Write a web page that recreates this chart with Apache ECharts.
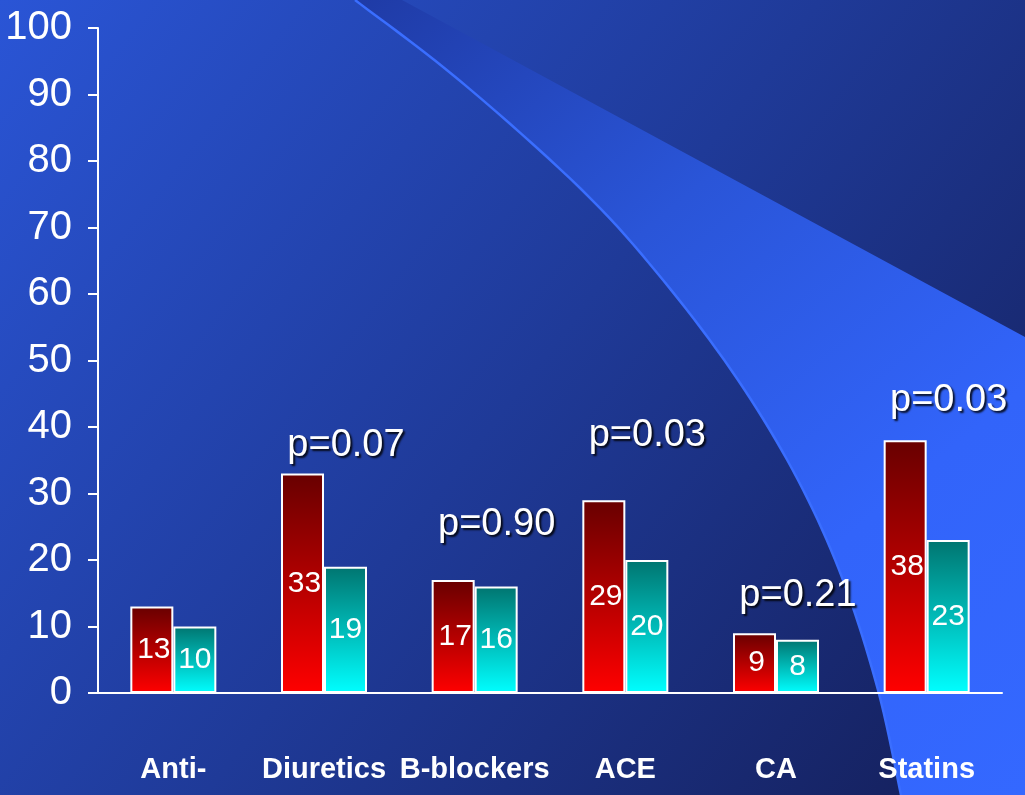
<!DOCTYPE html>
<html>
<head>
<meta charset="utf-8">
<script src="https://cdn.jsdelivr.net/npm/echarts@6/dist/echarts.min.js"></script>
<style>
  html, body { margin: 0; padding: 0; background: #1f3a9c; }
  #chart { width: 1025px; height: 795px; }
</style>
</head>
<body>
<div id="chart"></div>
<script>
// values
const categories = ['Anti-', 'Diuretics', 'B-blockers', 'ACE', 'CA', 'Statins'];
const redValues = [13, 33, 17, 29, 9, 38];
const tealValues = [10, 19, 16, 20, 8, 23];
const pLabels = ['', 'p=0.07', 'p=0.90', 'p=0.03', 'p=0.21', 'p=0.03'];

// how far each p label sits above its red bar (px), as on the slide
const pLift = [0, 28, 55, 65, 38, 40];

const chart = echarts.init(document.getElementById('chart'));

// decorative swoosh in the background (catmull-rom through a few anchors)
function swoosh() {
  const a = [[355, 0], [459, 80], [582, 190], [663, 280], [738, 380],
             [798, 480], [843, 580], [878, 690], [901, 795]];
  const pts = [];
  for (let k = 0; k < a.length - 1; k++) {
    const p0 = a[Math.max(k - 1, 0)], p1 = a[k], p2 = a[k + 1], p3 = a[Math.min(k + 2, a.length - 1)];
    for (let s = 0; s < 10; s++) {
      const t = s / 10, t2 = t * t, t3 = t2 * t;
      pts.push([0, 1].map(d => 0.5 * (2 * p1[d] + (-p0[d] + p2[d]) * t +
        (2 * p0[d] - 5 * p1[d] + 4 * p2[d] - p3[d]) * t2 +
        (-p0[d] + 3 * p1[d] - 3 * p2[d] + p3[d]) * t3)));
    }
  }
  pts.push(a[a.length - 1]);
  return pts;
}
const curve = swoosh();
const wedge = curve.concat([[1025, 795], [1025, 337], [402, 0]]);

const grad = (top, bottom) => new echarts.graphic.LinearGradient(0, 0, 0, 1, [
  { offset: 0, color: top },
  { offset: 1, color: bottom }
]);

const labelFont = "'Liberation Sans', Arial, sans-serif";

const option = {
  animation: false,
  graphic: {
    elements: [
      {
        type: 'rect', z: -20, silent: true,
        shape: { x: 0, y: 0, width: 1025, height: 795 },
        style: {
          fill: new echarts.graphic.LinearGradient(0, 0, 1, 1, [
            { offset: 0, color: '#2a55d6' },
            { offset: 0.5, color: '#1f3a98' },
            { offset: 1, color: '#141e58' }
          ])
        }
      },
      {
        type: 'polygon', z: -19, silent: true,
        shape: { points: wedge },
        style: {
          fill: new echarts.graphic.LinearGradient(0, 0, 1, 1, [
            { offset: 0, color: '#1f3ba6' },
            { offset: 0.35, color: '#2a55d8' },
            { offset: 0.7, color: '#3264fa' },
            { offset: 1, color: '#3468ff' }
          ])
        }
      },
      {
        type: 'polyline', z: -18, silent: true,
        shape: { points: curve },
        style: { stroke: '#3a6eff', lineWidth: 2.5, fill: null }
      }
    ]
  },
  grid: { left: 98, right: 23, top: 28, bottom: 102, outerBoundsMode: 'none' },
  xAxis: {
    type: 'category',
    data: categories,
    axisLine: { lineStyle: { color: '#fff', width: 2 } },
    axisTick: { length: 17, lineStyle: { color: '#fff', width: 2 } },
    axisLabel: {
      interval: 0,
      color: '#fff',
      fontFamily: labelFont,
      fontWeight: 'bold',
      fontSize: 29,
      margin: 62
    }
  },
  yAxis: {
    type: 'value',
    min: 0,
    max: 100,
    interval: 10,
    splitLine: { show: false },
    axisLine: { show: true, lineStyle: { color: '#fff', width: 2 } },
    axisTick: { show: true, length: 10, lineStyle: { color: '#fff', width: 2 } },
    axisLabel: {
      color: '#fff',
      fontFamily: labelFont,
      fontSize: 40,
      margin: 26
    }
  },
  series: [
    {
      type: 'bar',
      data: redValues,
      barWidth: 43,
      barGap: '0%',
      itemStyle: { color: grad('#680000', '#ff0000'), borderColor: '#fff', borderWidth: 2 },
      label: {
        show: true,
        position: 'inside',
        offset: [2, 0],
        color: '#fff',
        fontFamily: labelFont,
        fontSize: 30
      }
    },
    {
      type: 'bar',
      data: tealValues,
      barWidth: 43,
      barGap: '0%',
      itemStyle: { color: grad('#007570', '#00ffff'), borderColor: '#fff', borderWidth: 2 },
      label: {
        show: true,
        position: 'inside',
        color: '#fff',
        fontFamily: labelFont,
        fontSize: 30
      }
    },
    {
      type: 'custom',
      silent: true,
      z: 5,
      encode: { x: 0, y: 1 },
      data: redValues.map((v, i) => [i, v]),
      renderItem: function (params, api) {
        const i = params.dataIndex;
        if (!pLabels[i]) return null;
        const top = api.coord([api.value(0), api.value(1)]);
        return {
          type: 'text',
          style: {
            x: top[0] + 22,
            y: top[1] - pLift[i],
            text: pLabels[i],
            fill: '#fff',
            font: "38px 'Liberation Sans', Arial, sans-serif",
            align: 'center',
            verticalAlign: 'middle',
            textShadowColor: 'rgba(0,0,0,0.85)',
            textShadowBlur: 2,
            textShadowOffsetX: 2,
            textShadowOffsetY: 2
          }
        };
      }
    }
  ]
};

chart.setOption(option);
</script>
</body>
</html>
